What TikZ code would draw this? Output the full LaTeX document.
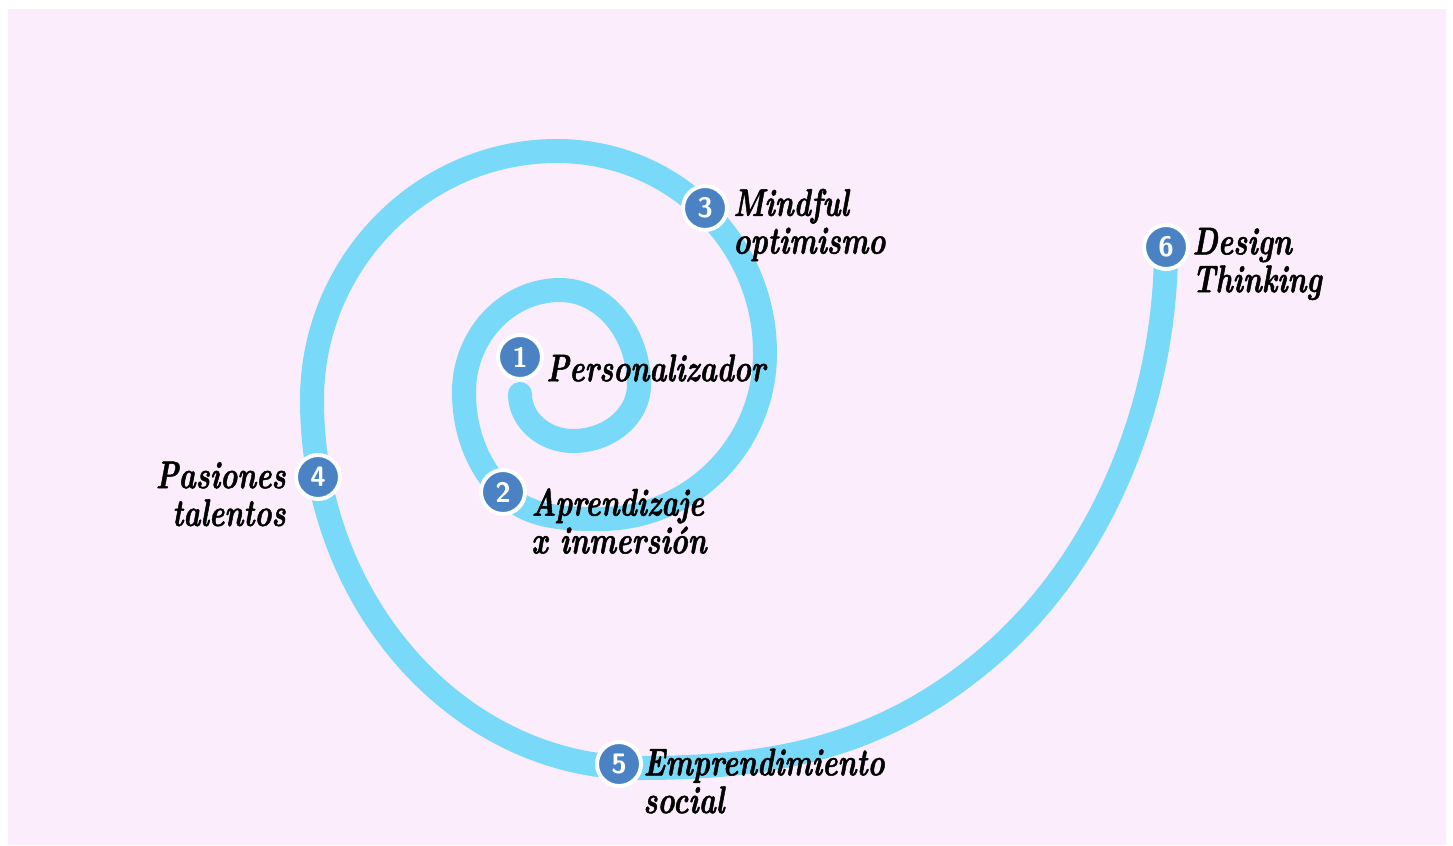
\documentclass[tikz,border=0pt]{standalone}
\usepackage{fontspec}
\usepackage{tikz}
\usetikzlibrary{positioning}

\newfontfamily\labelfont{lmroman10-bolditalic}[Extension=.otf, FakeStretch=0.75, FakeBold=1.2]

\definecolor{pagebg}{RGB}{252,237,252}
\definecolor{spiralblue}{RGB}{121,217,249}
\definecolor{dotblue}{RGB}{74,130,196}

\begin{document}
\begin{tikzpicture}[x=0.02cm, y=-0.02cm,
    numdot/.style={circle, fill=dotblue, draw=white, line width=0.08cm,
        minimum size=0.88cm, inner sep=0pt, text=white,
        font=\fontsize{16}{16}\selectfont\sffamily\bfseries},
    steptext/.style={inner sep=0pt, align=left,
        font=\fontsize{22}{21.5}\selectfont\labelfont}]
    % Background
    \useasboundingbox (0,0) rectangle (1453,845);
    \fill[pagebg] (8,9) rectangle (1446,845);

    % Spiral, quarter turns from one extreme to the next
    \draw[spiralblue, line width=0.48cm, line cap=round]
        (520,394) .. controls (520,420) and (544,441) .. (573,441)
        .. controls (609,441) and (639,416) .. (639,385)
        .. controls (639,333) and (604,290) .. (560,290)
        .. controls (507,290) and (464,336) .. (464,392)
        .. controls (464,432) and (478,467) .. (503,492)
        .. controls (528,517) and (560,519) .. (600,519)
        .. controls (691,519) and (765,445) .. (765,353)
        .. controls (765,241) and (672,151) .. (557,151)
        .. controls (422,151) and (312,263) .. (312,400)
        .. controls (312,603) and (459,768) .. (640,768)
        .. controls (770,768) and (884,749) .. (994,652)
        .. controls (1106,553) and (1166,397) .. (1166,247);

    % Numbered dots
    \foreach \n/\x/\y in {1/520/357, 2/503/492, 3/705/208,
                          4/318/477, 5/619/764, 6/1166/247} {
        \node[numdot] (n\n) at (\x,\y) {\n};
    }

    % Labels
    \node[steptext, anchor=west] (t1) at (546,368) {Personalizador};
    \node[steptext, anchor=west] (t2) at (531,521) {Aprendizaje\\x inmersión};
    \node[steptext, anchor=west] (t3) at (733,225) {Mindful\\optimismo};
    \node[steptext, anchor=east, align=right] (t4) at (286,494) {Pasiones\\talentos};
    \node[steptext, anchor=west] (t5) at (643,781) {Emprendimiento\\social};
    \node[steptext, anchor=west] (t6) at (1192,264) {Design\\Thinking};
\end{tikzpicture}
\end{document}
